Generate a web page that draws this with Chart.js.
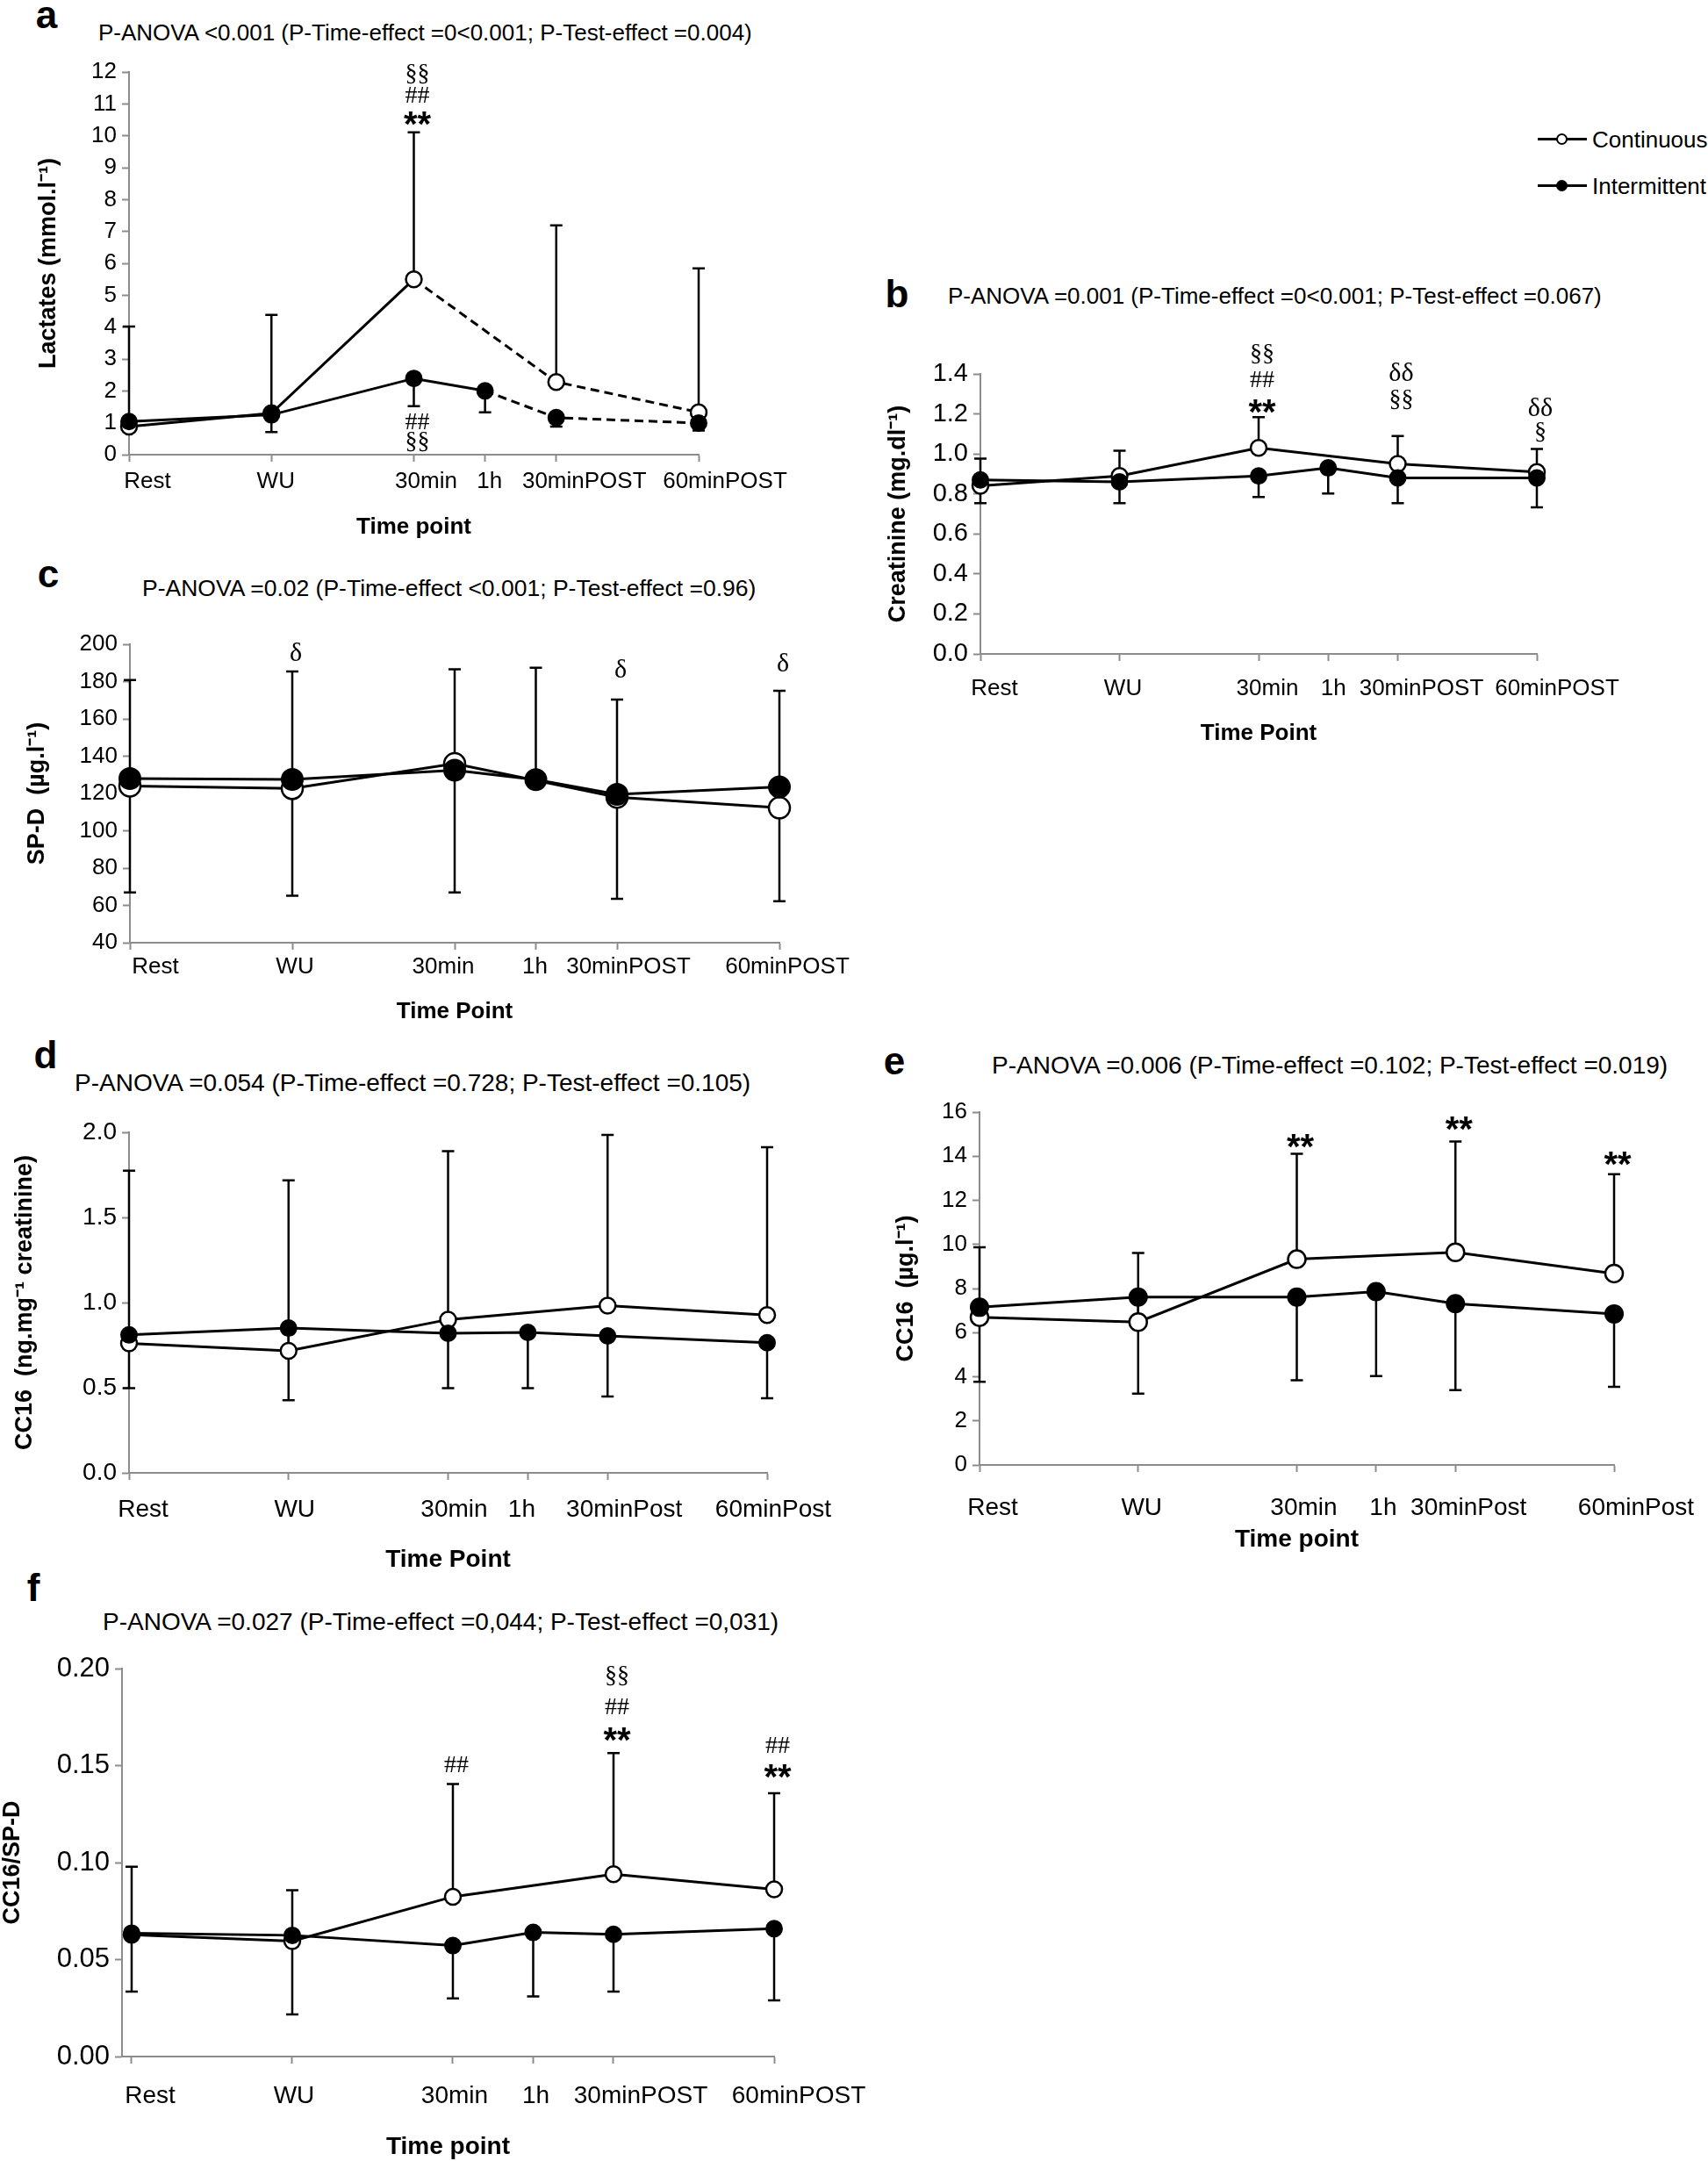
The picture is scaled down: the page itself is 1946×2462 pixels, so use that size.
<!DOCTYPE html>
<html>
<head>
<meta charset="utf-8">
<script src="https://cdn.jsdelivr.net/npm/chart.js@4.4.1/dist/chart.umd.min.js"></script>
<style>
  body { margin:0; background:#fff; width:1946px; height:2462px; position:relative; overflow:hidden;
         font-family:"Liberation Sans", Arial, sans-serif; color:#000; }
  canvas { position:absolute; }
  .letter { position:absolute; font-weight:bold; font-size:44px; line-height:1; transform:translate(-50%,-50%); }
  .ptitle { position:absolute; line-height:1; white-space:nowrap; transform:translateY(-50%); }
  .legtxt { position:absolute; font-size:26px; line-height:1; white-space:nowrap; transform:translateY(-50%); }
  .legln { position:absolute; height:3px; background:#000; }
  .legdot { position:absolute; width:9px; height:9px; border:2px solid #000; border-radius:50%; }
</style>
</head>
<body>

<div class="letter" style="left:53px;top:17px">a</div>
<div class="ptitle" style="left:112px;top:37px;font-size:26px">P-ANOVA &lt;0.001 (P-Time-effect =0&lt;0.001; P-Test-effect =0.004)</div>
<div class="letter" style="left:1022px;top:335px">b</div>
<div class="ptitle" style="left:1080px;top:337px;font-size:26px">P-ANOVA =0.001 (P-Time-effect =0&lt;0.001; P-Test-effect =0.067)</div>
<div class="letter" style="left:55px;top:654px">c</div>
<div class="ptitle" style="left:162px;top:670px;font-size:26.5px">P-ANOVA =0.02 (P-Time-effect &lt;0.001; P-Test-effect =0.96)</div>
<div class="letter" style="left:52px;top:1202px">d</div>
<div class="ptitle" style="left:85px;top:1234px;font-size:28px">P-ANOVA =0.054 (P-Time-effect =0.728; P-Test-effect =0.105)</div>
<div class="letter" style="left:1019px;top:1209px">e</div>
<div class="ptitle" style="left:1130px;top:1214px;font-size:28px">P-ANOVA =0.006 (P-Time-effect =0.102; P-Test-effect =0.019)</div>
<div class="letter" style="left:38px;top:1809px">f</div>
<div class="ptitle" style="left:117px;top:1848px;font-size:28px">P-ANOVA =0.027 (P-Time-effect =0,044; P-Test-effect =0,031)</div>

<!-- legend -->
<div class="legln" style="left:1752px;top:157px;width:56px"></div>
<div class="legdot" style="left:1773px;top:152px;background:#fff"></div>
<div class="legtxt" style="left:1814px;top:159px">Continuous</div>
<div class="legln" style="left:1752px;top:210px;width:56px"></div>
<div class="legdot" style="left:1773px;top:205px;background:#000"></div>
<div class="legtxt" style="left:1814px;top:212px">Intermittent</div>

<script>
// time points (ordinal position on the time axis; 1h sits between 30min and 30min post)
var timeLabels = ['Rest', 'WU', '30min', '1h', '30minPOST', '60minPOST'];
var timeLabelsPost = ['Rest', 'WU', '30min', '1h', '30minPost', '60minPost'];
var timeX = [0, 1, 2, 2.5, 3, 4];

// a - lactates
var lacCont = [0.88, 1.30, 5.50, null, 2.28, 1.33];
var lacContUp = [4.02, 4.38, 10.11, null, 7.19, 5.84];
var lacInt = [1.04, 1.25, 2.39, 2.00, 1.16, 0.99];
var lacIntDown = [0.90, 0.71, 1.52, 1.33, 0.88, 0.76];
var lacMarks = [[2, 10.54, '**'], [2, 11.24, '##'], [2, 11.94, '§§'], [2, 1.0, '##'], [2, 0.4, '§§']];

// b - creatinine
var creCont = [0.84, 0.89, 1.03, null, 0.95, 0.91];
var creContUp = [0.977, 1.016, 1.184, null, 1.09, 1.025];
var creInt = [0.87, 0.86, 0.89, 0.93, 0.88, 0.88];
var creIntDown = [0.754, 0.754, 0.785, 0.802, 0.754, 0.733];
var creMarks = [[2, 1.239, '**'], [2, 1.365, '##'], [2, 1.50, '§§'],
                [4, 1.27, '§§'], [4, 1.40, 'δδ'], [5, 1.108, '§'], [5, 1.223, 'δδ']];

// c - SP-D
var spdCont = [124, 122.7, 136, null, 118, 112.3];
var spdContDown = [66.9, 65.2, 66.9, null, 63.5, 62.2];
var spdInt = [128, 127.5, 132.5, 127.4, 119.5, 123.5];
var spdIntUp = [180.8, 185.4, 186.6, 187.4, 170.3, 175.1];
var spdMarks = [[1, 194.6, 'δ'], [4, 186, 'δ'], [5, 189, 'δ']];

// d - CC16 urinary
var ccuCont = [0.76, 0.716, 0.90, null, 0.982, 0.927];
var ccuContUp = [1.774, 1.718, 1.889, null, 1.984, 1.913];
var ccuInt = [0.81, 0.85, 0.82, 0.825, 0.804, 0.764];
var ccuIntDown = [0.498, 0.427, 0.498, 0.498, 0.448, 0.438];
var ccuMarks = [];

// e - CC16 serum
var ccsCont = [6.70, 6.48, 9.33, null, 9.64, 8.68];
var ccsContUp = [9.87, 9.61, 14.11, null, 14.67, 13.18];
var ccsInt = [7.15, 7.61, 7.61, 7.86, 7.31, 6.85];
var ccsIntDown = [3.77, 3.23, 3.84, 4.03, 3.39, 3.54];
var ccsMarks = [[2, 14.7, '**'], [4, 15.5, '**'], [5, 13.9, '**']];

// f - CC16/SP-D
var ratCont = [0.0628, 0.0595, 0.0824, null, 0.094, 0.0862];
var ratContUp = [0.0979, 0.0857, 0.1405, null, 0.1564, 0.1357];
var ratInt = [0.0636, 0.0625, 0.0572, 0.064, 0.063, 0.0659];
var ratIntDown = [0.0335, 0.0217, 0.030, 0.031, 0.0335, 0.029];
var ratMarks = [[2, 0.150, '##'], [4, 0.166, '**'], [4, 0.180, '##'], [4, 0.196, '§§'],
                [5, 0.147, '**'], [5, 0.160, '##']];

var FONT = '"Liberation Sans", Arial, sans-serif';
var SERIF = '"Liberation Serif", "Times New Roman", serif';
var AXIS = '#8c8c8c';

// error bars from each point to its end value
var errorBars = {
  id: 'errorBars',
  beforeDatasetsDraw: function(chart) {
    var ctx = chart.ctx, xs = chart.scales.x, ys = chart.scales.y;
    ctx.save();
    ctx.strokeStyle = '#000';
    ctx.lineWidth = 2.5;
    chart.data.datasets.forEach(function(ds) {
      var src = ds.values, ends = ds.errEnd;
      for (var i = 0; i < timeX.length; i++) {
        if (src[i] == null || ends[i] == null) continue;
        var px = xs.getPixelForValue(timeX[i]);
        var y0 = ys.getPixelForValue(src[i]);
        var y1 = ys.getPixelForValue(ends[i]);
        ctx.beginPath();
        ctx.moveTo(px, y0); ctx.lineTo(px, y1);
        ctx.moveTo(px - 7, y1); ctx.lineTo(px + 7, y1);
        ctx.stroke();
      }
    });
    ctx.restore();
  }
};

// significance symbols
var sigMarks = {
  id: 'sigMarks',
  afterDatasetsDraw: function(chart, args, opts) {
    var ctx = chart.ctx, xs = chart.scales.x, ys = chart.scales.y;
    ctx.save();
    ctx.fillStyle = '#000';
    ctx.textAlign = 'center';
    ctx.textBaseline = 'middle';
    (opts.marks || []).forEach(function(m) {
      var px = xs.getPixelForValue(timeX[m[0]]) + 4;
      var py = ys.getPixelForValue(m[1]);
      if (m[2] === '**') { ctx.font = 'bold 40px ' + FONT; py += 9; }
      else if (m[2].charAt(0) === 'δ') ctx.font = '30px ' + SERIF;
      else ctx.font = '28px ' + SERIF;
      ctx.fillText(m[2], px, py);
    });
    ctx.restore();
  }
};

// x tick labels, nudged like the original figure
var xLabels = {
  id: 'xLabels',
  afterDraw: function(chart, args, o) {
    var ctx = chart.ctx, xs = chart.scales.x;
    ctx.save();
    ctx.fillStyle = '#000';
    ctx.font = o.size + 'px ' + FONT;
    ctx.textAlign = 'center';
    ctx.textBaseline = 'middle';
    o.labels.forEach(function(t, i) {
      ctx.fillText(t, xs.getPixelForValue(timeX[i]) + o.shift[i], o.y);
    });
    ctx.restore();
  }
};

function pts(arr) {
  return timeX.map(function(x, i) { return { x: x, y: arr[i] }; });
}

function buildPanel(p) {
  var b = p.box;
  var tl = 8, yfs = 27;
  var cLeft = Math.round(b.yTitleX - yfs * 1.2 / 2);
  var cTop = b.T - 80;
  var cRight = Math.min(b.R + 140, 1946);
  var cBottom = Math.round(b.titleY + p.xfs * 1.2 / 2);
  var cv = document.createElement('canvas');
  cv.width = cRight - cLeft;
  cv.height = cBottom - cTop;
  cv.style.left = cLeft + 'px';
  cv.style.top = cTop + 'px';
  document.body.appendChild(cv);

  var dashFor = function(from) {
    return function(c) { return (from != null && c.p0DataIndex >= from) ? [10, 6] : undefined; };
  };

  new Chart(cv.getContext('2d'), {
    type: 'line',
    data: {
      datasets: [
        { label: 'Intermittent', data: pts(p.inter), values: p.inter, errEnd: p.interErr,
          borderColor: '#000', borderWidth: 3, pointRadius: p.r, pointBackgroundColor: '#000',
          pointBorderColor: '#000', pointBorderWidth: 2, spanGaps: true, clip: false,
          segment: { borderDash: dashFor(p.dash ? p.dash[1] : null) } },
        { label: 'Continuous', data: pts(p.cont), values: p.cont, errEnd: p.contErr,
          borderColor: '#000', borderWidth: 3, pointRadius: p.r, pointBackgroundColor: '#fff',
          pointBorderColor: '#000', pointBorderWidth: 2.5, spanGaps: true, clip: false,
          segment: { borderDash: dashFor(p.dash ? p.dash[0] : null) } }
      ]
    },
    options: {
      responsive: false, animation: false, devicePixelRatio: 1,
      layout: { padding: { top: b.T - cTop, right: cRight - b.R, left: 0, bottom: 0 } },
      plugins: {
        legend: { display: false }, tooltip: { enabled: false },
        sigMarks: { marks: p.marks },
        xLabels: { labels: p.labels, shift: p.shift, size: p.xfs, y: b.labelY - cTop }
      },
      scales: {
        x: {
          type: 'linear', min: p.xMin || 0, max: 4,
          afterBuildTicks: function(s) { s.ticks = timeX.map(function(v) { return { value: v }; }); },
          afterFit: function(s) { s.height = cBottom - b.B; },
          border: { display: true, color: AXIS, width: 2 },
          grid: { display: true, drawOnChartArea: false, drawTicks: true, tickLength: tl, tickColor: AXIS, tickWidth: 2 },
          ticks: { display: false, autoSkip: false },
          title: { display: true, text: p.xTitle, color: '#000', padding: 0,
                   font: { family: FONT, size: p.xfs, weight: 'bold' } }
        },
        y: {
          min: p.yMin, max: p.yMax,
          afterFit: function(s) { s.width = b.L - cLeft; },
          border: { display: true, color: AXIS, width: 2 },
          grid: { display: true, drawOnChartArea: false, drawTicks: true, tickLength: tl, tickColor: AXIS, tickWidth: 2 },
          ticks: { stepSize: p.yStep, autoSkip: false, padding: 6, color: '#000', font: { family: FONT, size: p.yfs },
                   callback: function(v) { return Number(v).toFixed(p.dec); } },
          title: { display: true, text: p.yTitle, color: '#000', padding: 0,
                   font: { family: FONT, size: yfs, weight: 'bold' } }
        }
      }
    },
    plugins: [errorBars, sigMarks, xLabels]
  });
}

buildPanel({ labels: timeLabels, cont: lacCont, contErr: lacContUp, inter: lacInt, interErr: lacIntDown,
  marks: lacMarks, dash: [2, 3], r: 9, yMin: 0, yMax: 12, yStep: 1, dec: 0,
  yTitle: 'Lactates (mmol.l⁻¹)', xTitle: 'Time point', xfs: 26, yfs: 26,
  shift: [21, 5, 14, 5, 32, 30],
  box: { L: 147, R: 796, T: 82, B: 518, labelY: 549, titleY: 600, yTitleX: 55 } });

buildPanel({ labels: timeLabels, cont: creCont, contErr: creContUp, inter: creInt, interErr: creIntDown,
  marks: creMarks, r: 9, yMin: 0, yMax: 1.4, yStep: 0.2, dec: 1,
  yTitle: 'Creatinine (mg.dl⁻¹)', xTitle: 'Time Point', xfs: 26, yfs: 29,
  shift: [16, 4, 10, 6, 27, 23],
  box: { L: 1117, R: 1751, T: 426, B: 745, labelY: 785, titleY: 835, yTitleX: 1023 } });

buildPanel({ labels: timeLabels, cont: spdCont, contErr: spdContDown, inter: spdInt, interErr: spdIntUp,
  marks: spdMarks, r: 12, yMin: 40, yMax: 200, yStep: 20, dec: 0,
  yTitle: 'SP-D  (µg.l⁻¹)', xTitle: 'Time Point', xfs: 26, yfs: 26,
  shift: [29, 3, -13, -1, 13, 9],
  box: { L: 148, R: 888, T: 734, B: 1074, labelY: 1102, titleY: 1152, yTitleX: 42 } });

buildPanel({ labels: timeLabelsPost, cont: ccuCont, contErr: ccuContUp, inter: ccuInt, interErr: ccuIntDown,
  marks: ccuMarks, r: 9, yMin: 0, yMax: 2, yStep: 0.5, dec: 1,
  yTitle: 'CC16  (ng.mg⁻¹ creatinine)', xTitle: 'Time Point', xfs: 28, yfs: 28,
  shift: [16, 7, 7, -7, 19, 7],
  box: { L: 147, R: 874, T: 1290, B: 1678, labelY: 1720, titleY: 1777, yTitleX: 28 } });

buildPanel({ labels: timeLabelsPost, cont: ccsCont, contErr: ccsContUp, inter: ccsInt, interErr: ccsIntDown,
  marks: ccsMarks, r: 10, yMin: 0, yMax: 16, yStep: 2, dec: 0,
  yTitle: 'CC16  (µg.l⁻¹)', xTitle: 'Time point', xfs: 28, yfs: 26,
  shift: [15, 4, 8, 8, 15, 25],
  box: { L: 1116, R: 1839, T: 1267, B: 1669, labelY: 1718, titleY: 1754, yTitleX: 1032 } });

buildPanel({ labels: timeLabels, cont: ratCont, contErr: ratContUp, inter: ratInt, interErr: ratIntDown,
  marks: ratMarks, r: 9, xMin: -0.06, yMin: 0, yMax: 0.2, yStep: 0.05, dec: 2,
  yTitle: 'CC16/SP-D', xTitle: 'Time point', xfs: 28, yfs: 31,
  shift: [21, 2, 2, 3, 31, 28],
  box: { L: 139, R: 882, T: 1901, B: 2343, labelY: 2388, titleY: 2446, yTitleX: 14 } });
</script>
</body>
</html>
